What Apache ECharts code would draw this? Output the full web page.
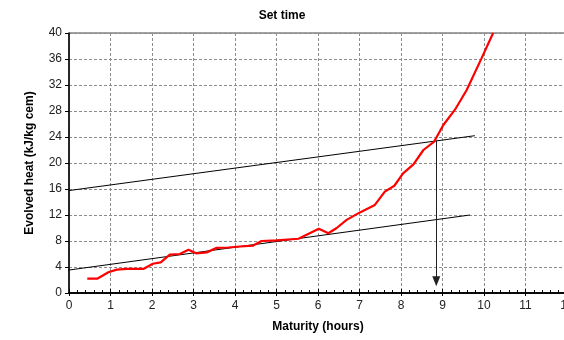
<!DOCTYPE html>
<html>
<head>
<meta charset="utf-8">
<script src="https://cdn.jsdelivr.net/npm/echarts@6/dist/echarts.min.js"></script>
<style>
  html, body { margin: 0; padding: 0; background: #fff; }
  #chart { width: 564px; height: 340px; }
</style>
</head>
<body>
<div id="chart"></div>
<script>
// Evolved heat versus maturity
const maturity = [0.44, 0.68, 0.95, 1.15, 1.4, 1.79, 2.02, 2.21, 2.43, 2.67, 2.88, 3.06, 3.32, 3.56, 3.84, 4.12, 4.44, 4.64, 5.0, 5.53, 6.02, 6.25, 6.45, 6.69, 7.01, 7.37, 7.61, 7.84, 8.05, 8.30, 8.54, 8.80, 9.02, 9.30, 9.58, 9.94, 10.22];
const evolvedHeat = [2.2, 2.2, 3.2, 3.6, 3.7, 3.7, 4.5, 4.7, 5.9, 6.0, 6.65, 6.1, 6.25, 6.95, 7.0, 7.15, 7.3, 8.0, 8.1, 8.35, 9.9, 9.2, 10.0, 11.25, 12.4, 13.55, 15.6, 16.5, 18.4, 19.8, 22.0, 23.3, 25.85, 28.2, 31.2, 36.1, 40.0];

// Construction lines (start / end points)
const lowerLineX = [-0.13, 9.66];
const lowerLineY = [3.42, 12.0];
const upperLineX = [0, 9.78];
const upperLineY = [15.76, 24.2];

// Set time marker: from intersection down to the axis
const setTimeX = 8.85;
const arrowFromY = 23.45;
const arrowToY = 1.8;

const xTicks = { min: 0, max: 12, interval: 1 };
const yTicks = { min: 0, max: 40, interval: 4 };

const font = 'Liberation Sans, Arial, sans-serif';
const gridLine = { show: true, lineStyle: { color: '#8c8c8c', type: [3, 2], width: 1 } };

const pairs = (xs, ys) => xs.map((x, i) => [x, ys[i]]);

const chart = echarts.init(document.getElementById('chart'), null, { renderer: 'canvas' });
chart.setOption({
  animation: false,
  backgroundColor: '#ffffff',
  title: {
    text: 'Set time',
    left: 'center',
    top: 5,
    textStyle: { fontFamily: font, fontSize: 12, fontWeight: 'bold', color: '#000' }
  },
  grid: {
    left: 69, top: 33, height: 260, width: 498,
    containLabel: false,
    outerBoundsMode: 'none',
    show: true, borderColor: '#444', borderWidth: 1
  },
  xAxis: [{
    type: 'value',
    min: xTicks.min, max: xTicks.max, interval: xTicks.interval,
    name: 'Maturity (hours)',
    nameLocation: 'middle',
    nameGap: 28,
    nameTextStyle: { fontFamily: font, fontSize: 12, fontWeight: 'bold', color: '#000' },
    axisLine: { onZero: false, lineStyle: { color: '#000', width: 1.5 } },
    axisTick: { show: true, length: 3, lineStyle: { color: '#000' } },
    axisLabel: { fontFamily: font, fontSize: 12, color: '#222', margin: 7, hideOverlap: false },
    splitLine: gridLine
  }, {
    type: 'value',
    position: 'bottom',
    min: xTicks.min, max: xTicks.max, interval: xTicks.interval,
    axisLine: { show: true, onZero: false, lineStyle: { color: '#000', width: 1.5 } },
    axisTick: { show: true, inside: true, length: 4, lineStyle: { color: '#000' } },
    minorTick: { show: true, splitNumber: 5, length: 3, lineStyle: { color: '#000' } },
    axisLabel: { show: false },
    splitLine: { show: false }
  }],
  yAxis: {
    type: 'value',
    min: yTicks.min, max: yTicks.max, interval: yTicks.interval,
    name: 'Evolved heat (kJ/kg cem)',
    nameLocation: 'middle',
    nameGap: 33,
    nameTextStyle: { fontFamily: font, fontSize: 12, fontWeight: 'bold', color: '#000' },
    axisLine: { show: true, onZero: false, lineStyle: { color: '#000', width: 1.5 } },
    axisTick: { show: true, length: 4, lineStyle: { color: '#000' } },
    axisLabel: { fontFamily: font, fontSize: 12, color: '#222', margin: 7 },
    splitLine: gridLine
  },
  series: [
    {
      type: 'line',
      data: pairs(lowerLineX, lowerLineY),
      showSymbol: false,
      clip: false,
      lineStyle: { color: '#000', width: 1 },
      z: 3
    },
    {
      type: 'line',
      data: pairs(upperLineX, upperLineY),
      showSymbol: false,
      lineStyle: { color: '#000', width: 1 },
      z: 3
    },
    {
      type: 'line',
      data: pairs(maturity, evolvedHeat),
      showSymbol: false,
      lineStyle: { color: '#ff0000', width: 2.2 },
      z: 4,
      markLine: {
        silent: true,
        symbol: ['none', 'triangle'],
        symbolSize: [8, 10],
        label: { show: false },
        lineStyle: { color: '#222', width: 1, type: 'solid' },
        data: [[{ coord: [setTimeX, arrowFromY] }, { coord: [setTimeX, arrowToY] }]]
      }
    }
  ]
});
</script>
</body>
</html>
